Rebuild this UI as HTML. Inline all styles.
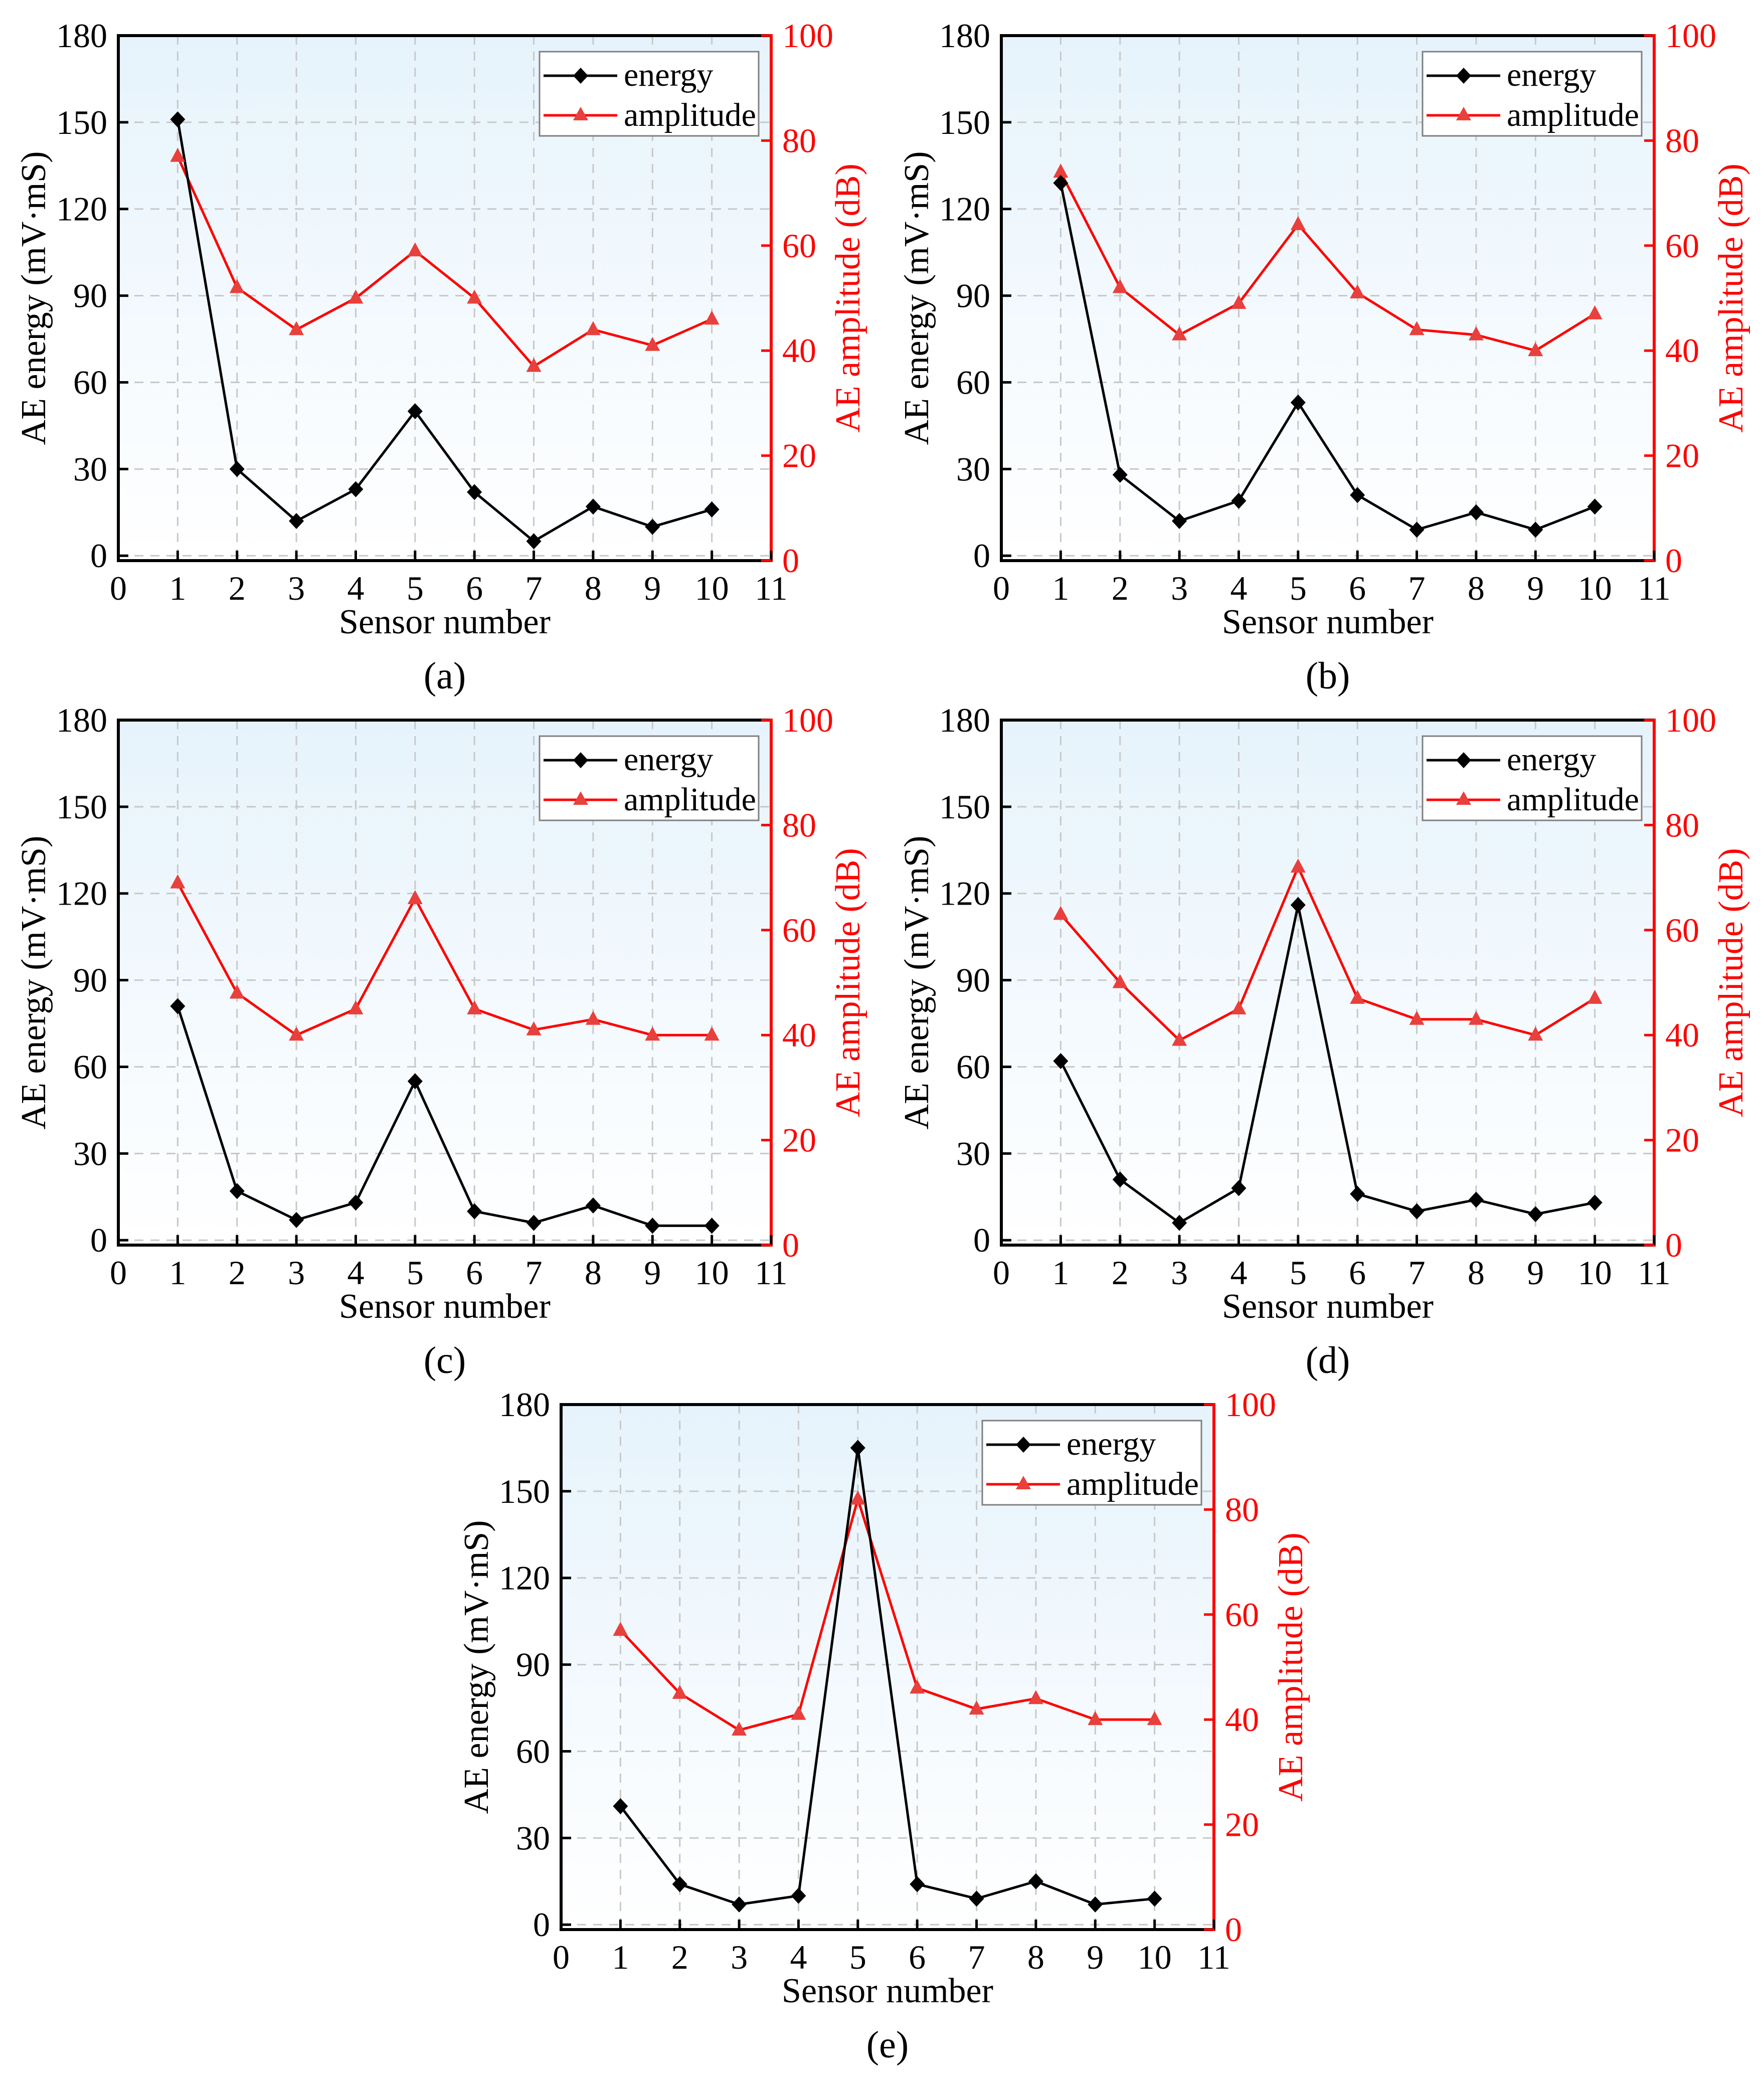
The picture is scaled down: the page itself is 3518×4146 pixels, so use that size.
<!DOCTYPE html>
<html><head><meta charset="utf-8"><style>
body{margin:0;background:#fff;}
svg{display:block;}
text{font-family:"Liberation Serif","DejaVu Serif",serif;}
</style></head><body>
<svg id="c" width="3518" height="4146" viewBox="0 0 3518 4146" xmlns="http://www.w3.org/2000/svg" font-family="Liberation Serif, serif">
<defs><linearGradient id="bg" x1="0" y1="0" x2="0" y2="1"><stop offset="0" stop-color="#e6f3fc"/><stop offset="1" stop-color="#ffffff"/></linearGradient></defs>
</svg>
<script>
const sensors=[1,2,3,4,5,6,7,8,9,10];
const energyA=[151,30,12,23,50,22,5,17,10,16];
const ampA=[77,52,44,50,59,50,37,44,41,46];
const energyB=[129,28,12,19,53,21,9,15,9,17];
const ampB=[74,52,43,49,64,51,44,43,40,47];
const energyC=[81,17,7,13,55,10,6,12,5,5];
const ampC=[69,48,40,45,66,45,41,43,40,40];
const energyD=[62,21,6,18,116,16,10,14,9,13];
const ampD=[63,50,39,45,72,47,43,43,40,47];
const energyE=[41,14,7,10,165,14,9,15,7,9];
const ampE=[57,45,38,41,82,46,42,44,40,40];
const xTicks=[0,1,2,3,4,5,6,7,8,9,10,11];
const leftTicks=[0,30,60,90,120,150,180];
const rightTicks=[0,20,40,60,80,100];
const panels=[
 {id:'a',x:236,y:71,e:energyA,a:ampA},
 {id:'b',x:1997,y:71,e:energyB,a:ampB},
 {id:'c',x:236,y:1436,e:energyC,a:ampC},
 {id:'d',x:1997,y:1436,e:energyD,a:ampD},
 {id:'e',x:1119,y:2801,e:energyE,a:ampE}];
const W=1302,H=1047;
const FF='"Liberation Serif", serif';
const svg=document.getElementById('c');
const NS='http://www.w3.org/2000/svg';
function mk(tag,attrs,parent,text){const el=document.createElementNS(NS,tag);for(const k in attrs)el.setAttribute(k,attrs[k]);if(text!==undefined){el.textContent=text;el.setAttribute('font-family',FF);}parent.appendChild(el);return el;}
panels.forEach(p=>{
 const g=mk('g',{},svg);
 
 
 const X=v=>p.x+v/11*W;
 const YL=v=>p.y+H-(v+1.7)/181.7*H;
 const YR=v=>p.y+H-v/100*H;
 const bg=mk('rect',{x:p.x,y:p.y,width:W,height:H,fill:'url(#bg)'},g);
 
 
 xTicks.forEach(t=>{if(t>0&&t<11){const l=mk('line',{x1:X(t),x2:X(t),y1:p.y,y2:p.y+H,stroke:'#c8c8c8','stroke-width':3,'stroke-dasharray':'18,14'},g);
  
  }});
 leftTicks.forEach(t=>{if(t<180){const l=mk('line',{x1:p.x,x2:p.x+W,y1:YL(t),y2:YL(t),stroke:'#c8c8c8','stroke-width':3,'stroke-dasharray':'18,14'},g);
  
  }});
 mk('line',{x1:p.x,x2:p.x+W,y1:p.y,y2:p.y,stroke:'#000','stroke-width':6},g);
 mk('line',{x1:p.x,x2:p.x+W,y1:p.y+H,y2:p.y+H,stroke:'#000','stroke-width':6},g);
 mk('line',{x1:p.x,x2:p.x,y1:p.y-3,y2:p.y+H+3,stroke:'#000','stroke-width':6},g);
 mk('line',{x1:p.x+W,x2:p.x+W,y1:p.y-3,y2:p.y+H+3,stroke:'#ff0000','stroke-width':6},g);
 xTicks.forEach(t=>{
  mk('line',{x1:X(t),x2:X(t),y1:p.y+H,y2:p.y+H-20,stroke:'#000','stroke-width':5},g);
  const tl=mk('text',{x:X(t),y:p.y+H+78,'font-size':68,'text-anchor':'middle'},g,String(t));
  
  
 });
 leftTicks.forEach(t=>{
  mk('line',{x1:p.x,x2:p.x+20,y1:YL(t),y2:YL(t),stroke:'#000','stroke-width':5},g);
  const tl=mk('text',{x:p.x-22,y:YL(t)+23,'font-size':68,'text-anchor':'end'},g,String(t));
  
  
 });
 rightTicks.forEach(t=>{
  mk('line',{x1:p.x+W,x2:p.x+W-20,y1:YR(t),y2:YR(t),stroke:'#ff0000','stroke-width':5},g);
  const tl=mk('text',{x:p.x+W+22,y:YR(t)+23,'font-size':68,fill:'#ff0000'},g,String(t));
  
  
 });
 const xt=mk('text',{x:p.x+W/2,y:p.y+H+145,'font-size':70,'text-anchor':'middle'},g,'Sensor number');
 
 
 const cx=p.x-162,cy=p.y+H/2;
 const yt=mk('text',{x:cx,y:cy,'font-size':70,'text-anchor':'middle',transform:`rotate(-90 ${cx} ${cy})`,'dominant-baseline':'middle'},g,'AE energy (mV·mS)');
 
 
 const rx=p.x+W+160;
 const rt=mk('text',{x:rx,y:cy,'font-size':70,fill:'#ff0000','text-anchor':'middle',transform:`rotate(-90 ${rx} ${cy})`,'dominant-baseline':'middle'},g,'AE amplitude (dB)');
 
 
 const cap=mk('text',{x:p.x+W/2,y:p.y+H+255,'font-size':76,'text-anchor':'middle'},g,'('+p.id+')');
 
 
 const ap=sensors.map((s,i)=>X(s)+','+YR(p.a[i])).join(' ');
 const al=mk('polyline',{points:ap,fill:'none',stroke:'#ff0000','stroke-width':5},g);
 
 
 const ep=sensors.map((s,i)=>X(s)+','+YL(p.e[i])).join(' ');
 const el=mk('polyline',{points:ep,fill:'none',stroke:'#000','stroke-width':5},g);
 
 
 sensors.forEach((s,i)=>{
  const x=X(s),y=YR(p.a[i]);
  const t=mk('polygon',{points:`${x},${y-17} ${x-15},${y+11} ${x+15},${y+11}`,fill:'#e8403c'},g);
  
  
 });
 sensors.forEach((s,i)=>{
  const x=X(s),y=YL(p.e[i]);
  const d=mk('polygon',{points:`${x},${y-16} ${x+15},${y} ${x},${y+16} ${x-15},${y}`,fill:'#000'},g);
  
  
 });
 const lx=p.x+840,ly=p.y+32;
 const lg=mk('g',{},g);
 
 
 mk('rect',{x:lx,y:ly,width:437,height:168,fill:'#fff',stroke:'#808080','stroke-width':3},lg);
 mk('line',{x1:lx+8,x2:lx+155,y1:ly+48,y2:ly+48,stroke:'#000','stroke-width':5},lg);
 mk('polygon',{points:`${lx+82},${ly+32} ${lx+97},${ly+48} ${lx+82},${ly+64} ${lx+67},${ly+48}`,fill:'#000'},lg);
 const t1=mk('text',{x:lx+168,y:ly+68,'font-size':66},lg,'energy');
 
 
 mk('line',{x1:lx+8,x2:lx+155,y1:ly+127,y2:ly+127,stroke:'#ff0000','stroke-width':5},lg);
 mk('polygon',{points:`${lx+82},${ly+110} ${lx+67},${ly+137} ${lx+97},${ly+137}`,fill:'#e8403c'},lg);
 const t2=mk('text',{x:lx+168,y:ly+148,'font-size':66},lg,'amplitude');
 
 
});
</script>
</body></html>
